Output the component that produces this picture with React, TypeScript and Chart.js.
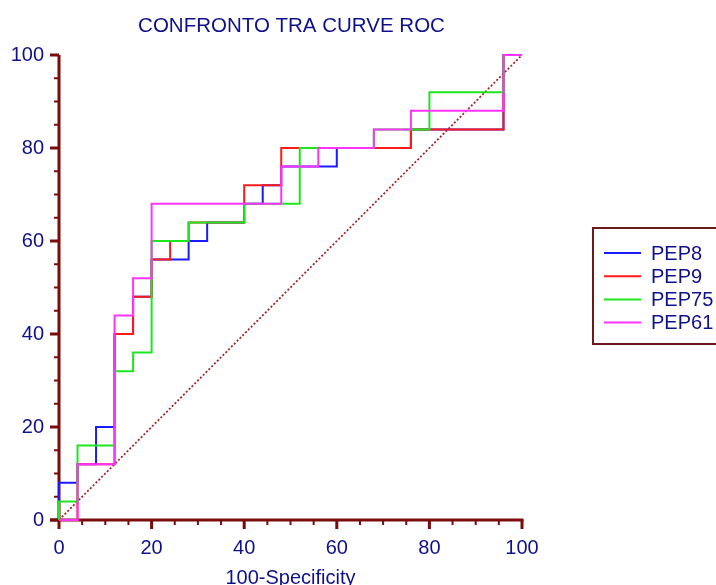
import React, { useEffect, useRef } from "react";
import { Chart, registerables } from "chart.js";

Chart.register(...registerables);

// ROC corner points: x = 100-Specificity (%), y = Sensitivity (%)
const pep8X = [0, 0, 4, 4, 8, 8, 12, 12, 16, 16, 20, 20, 28, 28, 32, 32, 40, 40, 44, 44, 48, 48, 60, 60, 76, 76, 96, 96, 100];
const pep8Y = [0, 8, 8, 12, 12, 20, 20, 40, 40, 48, 48, 56, 56, 60, 60, 64, 64, 68, 68, 72, 72, 76, 76, 80, 80, 84, 84, 100, 100];

const pep9X = [0, 4, 4, 12, 12, 16, 16, 20, 20, 24, 24, 28, 28, 40, 40, 48, 48, 76, 76, 96, 96, 100];
const pep9Y = [0, 0, 12, 12, 40, 40, 48, 48, 56, 56, 60, 60, 64, 64, 72, 72, 80, 80, 84, 84, 100, 100];

const pep75X = [0, 0, 4, 4, 12, 12, 16, 16, 20, 20, 28, 28, 40, 40, 52, 52, 68, 68, 80, 80, 96, 96, 100];
const pep75Y = [0, 4, 4, 16, 16, 32, 32, 36, 36, 60, 60, 64, 64, 68, 68, 80, 80, 84, 84, 92, 92, 100, 100];

const pep61X = [0, 4, 4, 12, 12, 16, 16, 20, 20, 48, 48, 56, 56, 68, 68, 76, 76, 96, 96, 100];
const pep61Y = [0, 0, 12, 12, 44, 44, 52, 52, 68, 68, 76, 76, 80, 80, 84, 84, 88, 88, 100, 100];

// reference line of a non-informative test
const chanceX = [0, 100];
const chanceY = [0, 100];

const seriesLabels = ["PEP8", "PEP9", "PEP75", "PEP61"];
const seriesColors = ["#1a1aff", "#ff1a1a", "#1ee61e", "#ff33ff"];

const titleText = "CONFRONTO TRA CURVE ROC";
const xAxisTitle = "100-Specificity";
const majorStep = 20;
const minorStep = 5;

const NAVY = "#10108a";
const MAROON = "#7a0c0c";
const FONT = "'Liberation Sans', Arial, sans-serif";

const toPoints = (xs: number[], ys: number[]) => xs.map((x, i) => ({ x, y: ys[i] }));

// Axis lines with major and minor tick marks, drawn below the curves
const axisFramePlugin = {
  id: "axisFrame",
  beforeDatasetsDraw(chart: any) {
    const { ctx } = chart;
    const xs = chart.scales.x;
    const ys = chart.scales.y;
    const x0 = xs.getPixelForValue(0);
    const x1 = xs.getPixelForValue(100);
    const y0 = ys.getPixelForValue(0);
    const y1 = ys.getPixelForValue(100);
    ctx.save();
    ctx.strokeStyle = MAROON;
    ctx.lineCap = "butt";
    ctx.lineWidth = 3;
    ctx.beginPath();
    ctx.moveTo(x0, y1);
    ctx.lineTo(x0, y0 + 1.5);
    ctx.moveTo(x0 - 9, y0);
    ctx.lineTo(x1 + 1.5, y0);
    ctx.stroke();
    for (let v = 0; v <= 100; v += minorStep) {
      const major = v % majorStep === 0;
      const len = major ? 9 : 5;
      ctx.lineWidth = major ? 3 : 2;
      const px = xs.getPixelForValue(v);
      const py = ys.getPixelForValue(v);
      ctx.beginPath();
      ctx.moveTo(px, y0);
      ctx.lineTo(px, y0 + len);
      ctx.moveTo(x0, py);
      ctx.lineTo(x0 - len, py);
      ctx.stroke();
    }
    ctx.restore();
  },
};

// Title above the plot and boxed legend on the right
const decorPlugin = {
  id: "decor",
  afterDraw(chart: any) {
    const { ctx, chartArea } = chart;
    ctx.save();
    ctx.fillStyle = NAVY;
    ctx.font = `20.5px ${FONT}`;
    ctx.textAlign = "center";
    ctx.textBaseline = "alphabetic";
    ctx.fillText(titleText, (chartArea.left + chartArea.right) / 2 + 1, 32);

    const boxLeft = 593;
    const boxTop = 228;
    const boxBottom = 344;
    ctx.strokeStyle = "#6e1a1a";
    ctx.lineWidth = 2;
    ctx.strokeRect(boxLeft, boxTop, 140, boxBottom - boxTop);

    ctx.font = `20px ${FONT}`;
    ctx.textAlign = "left";
    ctx.textBaseline = "middle";
    seriesLabels.forEach((label, i) => {
      const cy = 253 + i * 23.2;
      ctx.strokeStyle = seriesColors[i];
      ctx.lineWidth = 2;
      ctx.beginPath();
      ctx.moveTo(604, cy);
      ctx.lineTo(641, cy);
      ctx.stroke();
      ctx.fillStyle = NAVY;
      ctx.fillText(label, 651, cy + 1);
    });
    ctx.restore();
  },
};

export default function App() {
  const canvasRef = useRef<HTMLCanvasElement | null>(null);

  useEffect(() => {
    const canvas = canvasRef.current;
    if (!canvas) return;

    const curves = [
      { xs: pep8X, ys: pep8Y, order: 4 },
      { xs: pep9X, ys: pep9Y, order: 3 },
      { xs: pep75X, ys: pep75Y, order: 2 },
      { xs: pep61X, ys: pep61Y, order: 1 },
    ];

    const datasets: any[] = curves.map((c, i) => ({
      label: seriesLabels[i],
      data: toPoints(c.xs, c.ys),
      borderColor: seriesColors[i],
      backgroundColor: seriesColors[i],
      borderWidth: 2,
      pointRadius: 0,
      tension: 0,
      fill: false,
      clip: false,
      order: c.order,
    }));

    datasets.push({
      label: "chance",
      data: toPoints(chanceX, chanceY),
      borderColor: "#a02828",
      borderWidth: 1.8,
      borderDash: [2, 2],
      pointRadius: 0,
      fill: false,
      clip: false,
      order: 5,
    });

    const tickFont = { family: FONT, size: 20 };

    const chart = new Chart(canvas, {
      type: "line",
      data: { datasets },
      plugins: [axisFramePlugin, decorPlugin],
      options: {
        animation: false,
        responsive: false,
        devicePixelRatio: 1,
        layout: { padding: { top: 55, right: 194, bottom: 0, left: 0 } },
        plugins: {
          legend: { display: false },
          title: { display: false },
          tooltip: { enabled: false },
        },
        scales: {
          x: {
            type: "linear",
            min: 0,
            max: 100,
            afterFit: (scale: any) => {
              scale.height = 65;
            },
            grid: { display: false, drawTicks: true, tickLength: 9 },
            border: { display: false },
            ticks: { stepSize: majorStep, color: NAVY, font: tickFont, padding: 7, maxRotation: 0 },
            title: {
              display: true,
              text: xAxisTitle,
              color: NAVY,
              font: { family: FONT, size: 20 },
              padding: { top: 0, bottom: -5 },
            },
          },
          y: {
            type: "linear",
            min: 0,
            max: 100,
            afterFit: (scale: any) => {
              scale.width = 59;
            },
            grid: { display: false, drawTicks: true, tickLength: 9 },
            border: { display: false },
            ticks: { stepSize: majorStep, color: NAVY, font: tickFont, padding: 6 },
          },
        },
      },
    });

    return () => chart.destroy();
  }, []);

  return (
    <div style={{ position: "absolute", left: 0, top: 0, width: 716, height: 585, background: "#fff" }}>
      <canvas ref={canvasRef} width={716} height={585} style={{ display: "block" }} />
    </div>
  );
}
